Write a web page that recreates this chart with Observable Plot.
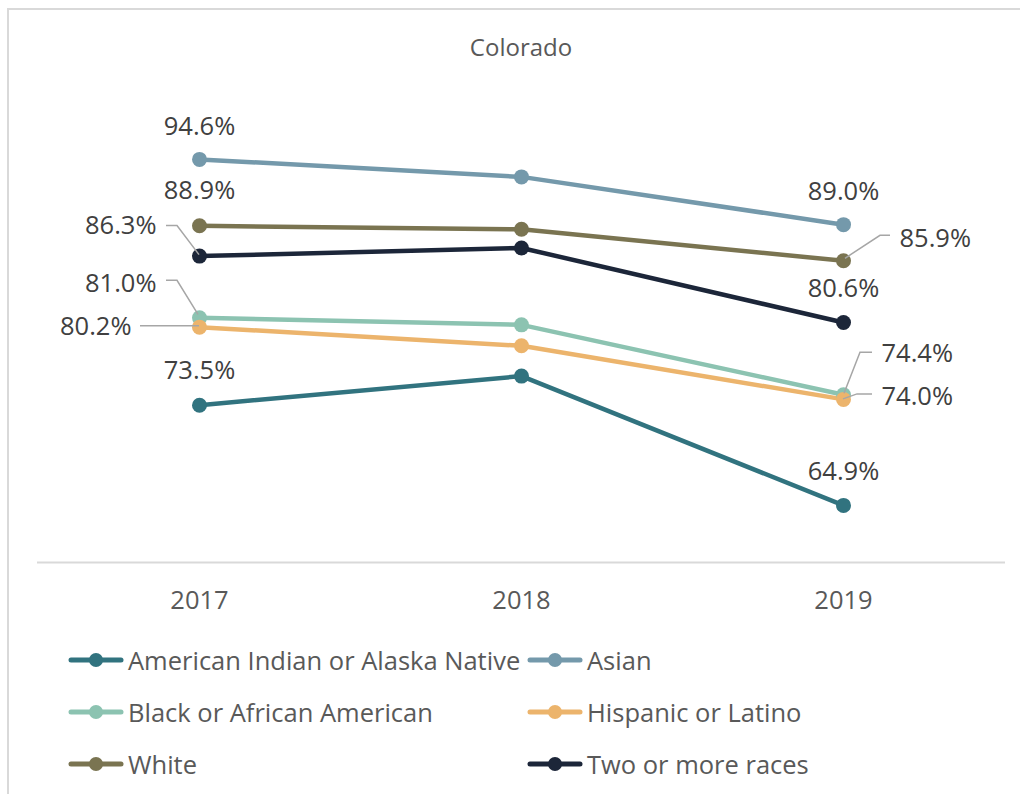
<!DOCTYPE html>
<html>
<head>
<meta charset="utf-8">
<script src="https://cdn.jsdelivr.net/npm/d3@7"></script>
<script src="https://cdn.jsdelivr.net/npm/@observablehq/plot@0.6"></script>
<style>
  html, body { margin: 0; padding: 0; background: #fff; overflow: hidden; }
  #page { width: 1020px; height: 794px; overflow: hidden; position: relative; font-family: "Open Sans", sans-serif; }
  #frame { position: absolute; left: 7px; top: 8px; width: 1013px; height: 786px; border-top: 2px solid #d9d9d9; border-left: 2px solid #d9d9d9; box-sizing: border-box; }
  #title { position: absolute; top: 31px; left: 0; width: 1042px; text-align: center; font-size: 24px; color: #595959; line-height: 32px; }
  #chart { position: absolute; top: 80px; left: 0; }
  #legend { position: absolute; top: 634px; left: 68px; }
  .row { display: flex; height: 52px; align-items: center; }
  .item { display: flex; align-items: center; font-size: 25.5px; color: #595959; white-space: nowrap; }
  .item svg { margin-right: 4px; }
</style>
</head>
<body>
<div id="page">
<div id="frame"></div>
<div id="title">Colorado</div>
<div id="chart"></div>
<div id="legend"></div>
</div>
<script>
// ---- data ----
const years = ["2017", "2018", "2019"];
const groups = ["American Indian or Alaska Native", "Asian", "Black or African American", "Hispanic or Latino", "White", "Two or more races"];
const colors = ["#31737f", "#7499ab", "#8cc3b1", "#ecb46c", "#7a7451", "#1c2639"];
const americanIndian = [73.5, 76.0, 64.9];
const asian = [94.6, 93.1, 89.0];
const black = [81.0, 80.4, 74.4];
const hispanic = [80.2, 78.6, 74.0];
const white = [88.9, 88.6, 85.9];
const twoOrMore = [86.3, 87.0, 80.6];
const labelYears = ["2017", "2019"];

const series = [americanIndian, asian, black, hispanic, white, twoOrMore];
const rows = [];
groups.forEach((g, i) => years.forEach((yr, j) => rows.push({group: g, year: yr, value: series[i][j]})));
const valueOf = (g, yr) => rows.find(r => r.group === g && r.year === yr).value;

// ---- label placement (pixel offsets from the point) ----
const placement = [
  {group: groups[1], year: "2017", dx: 0, dy: -33, anchor: "middle"},
  {group: groups[4], year: "2017", dx: 0, dy: -35, anchor: "middle"},
  {group: groups[5], year: "2017", dx: -43, dy: -30, anchor: "end", leader: [[-33, -30], [-22, -30], [0, -1]]},
  {group: groups[2], year: "2017", dx: -43, dy: -34, anchor: "end", leader: [[-33, -37], [-22, -37], [-1, -3]]},
  {group: groups[3], year: "2017", dx: -68, dy: 0, anchor: "end", leader: [[-59, -1], [0, -1]]},
  {group: groups[0], year: "2017", dx: 0, dy: -34, anchor: "middle"},
  {group: groups[1], year: "2019", dx: 0, dy: -33, anchor: "middle"},
  {group: groups[4], year: "2019", dx: 56, dy: -22, anchor: "start", leader: [[47, -25], [37, -25], [2, -2]]},
  {group: groups[5], year: "2019", dx: 0, dy: -34, anchor: "middle"},
  {group: groups[2], year: "2019", dx: 38, dy: -41, anchor: "start", leader: [[29, -42], [17, -42], [1, -1]]},
  {group: groups[3], year: "2019", dx: 38, dy: -3, anchor: "start", leader: [[29, -5], [14, -5], [0, 0]]},
  {group: groups[0], year: "2019", dx: 0, dy: -34, anchor: "middle"}
];

const labelMarks = placement.filter(p => labelYears.includes(p.year)).map(p =>
  Plot.text(rows.filter(r => r.group === p.group && r.year === p.year), {
    x: "year", y: "value", text: d => d.value.toFixed(1) + "%",
    dx: p.dx, dy: p.dy, textAnchor: p.anchor, lineAnchor: "middle",
    fontSize: 25.5, fill: "#404040", fontFamily: "Open Sans"
  })
);

const leaderMark = (index, scales) => {
  const g = d3.create("svg:g").attr("fill", "none").attr("stroke", "#a6a6a6").attr("stroke-width", 1.5);
  for (const p of placement) {
    if (!p.leader) continue;
    const px = scales.x(p.year), py = scales.y(valueOf(p.group, p.year));
    g.append("path").attr("d", d3.line()(p.leader.map(([dx, dy]) => [px + dx, py + dy])));
  }
  return g.node();
};

const chart = Plot.plot({
  width: 1020,
  height: 545,
  marginTop: 16,
  marginBottom: 63,
  marginLeft: 37,
  marginRight: 15,
  style: {fontFamily: "Open Sans", background: "transparent", overflow: "visible"},
  x: {type: "point", domain: years, label: null, padding: 0.5, axis: null},
  y: {domain: [60, 100], axis: null},
  color: {domain: groups, range: colors},
  marks: [
    Plot.ruleY([60], {stroke: "#d9d9d9", strokeWidth: 2}),
    Plot.text(years, {x: d => d, text: d => d, frameAnchor: "bottom", dy: 38, lineAnchor: "middle",
      fontSize: 25.5, fill: "#595959", fontFamily: "Open Sans"}),
    Plot.line(rows, {x: "year", y: "value", z: "group", stroke: "group", strokeWidth: 4.5}),
    Plot.dot(rows, {x: "year", y: "value", fill: "group", r: 7.5}),
    leaderMark,
    ...labelMarks
  ]
});
document.getElementById("chart").appendChild(chart);

// ---- legend ----
const legend = document.getElementById("legend");
const colWidths = [459, 400];
for (let r = 0; r < 3; r++) {
  const row = document.createElement("div");
  row.className = "row";
  for (let c = 0; c < 2; c++) {
    const i = r * 2 + c;
    const item = document.createElement("div");
    item.className = "item";
    item.style.width = colWidths[c] + "px";
    item.innerHTML = `<svg width="56" height="16"><line x1="3" y1="8" x2="53" y2="8" stroke="${colors[i]}" stroke-width="5" stroke-linecap="round"/><circle cx="28" cy="8" r="7" fill="${colors[i]}"/></svg><span>${groups[i]}</span>`;
    row.appendChild(item);
  }
  legend.appendChild(row);
}
</script>
</body>
</html>
